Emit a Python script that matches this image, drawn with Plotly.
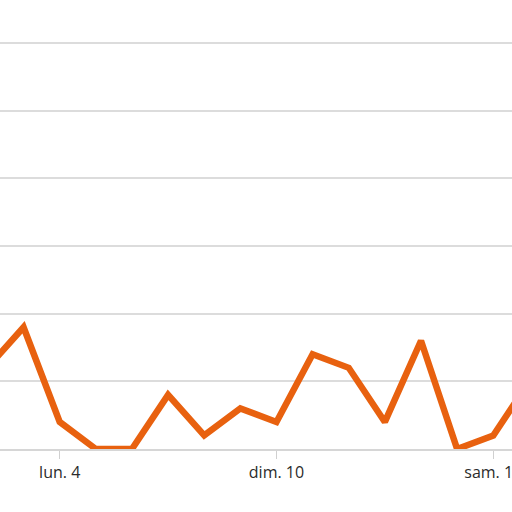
import plotly.graph_objects as go
import pandas as pd

dates = ["2024-03-01", "2024-03-02", "2024-03-03", "2024-03-04", "2024-03-05", "2024-03-06",
         "2024-03-07", "2024-03-08", "2024-03-09", "2024-03-10", "2024-03-11", "2024-03-12",
         "2024-03-13", "2024-03-14", "2024-03-15", "2024-03-16", "2024-03-17", "2024-03-18"]
values = [5, 6, 9, 2, 0, 0, 4, 1, 3, 2, 7, 6, 2, 8, 0, 1, 5, 6]
tick_dates = ["2024-03-04", "2024-03-10", "2024-03-16"]
tick_labels = ["lun. 4", "dim. 10", "sam. 16"]

fig = go.Figure(go.Scatter(
    x=pd.to_datetime(dates), y=values, mode="lines",
    line=dict(color="#E8610F", width=6.5),
    hoverinfo="skip",
))

fig.update_layout(
    width=512, height=512,
    margin=dict(l=0, r=0, t=39, b=63, autoexpand=False),
    paper_bgcolor="white", plot_bgcolor="white",
    showlegend=False,
    font=dict(family="Open Sans, sans-serif", size=16, color="#2b2b2b"),
)
fig.update_xaxes(
    range=["2024-03-02 08:21", "2024-03-16 12:27"],
    tickvals=pd.to_datetime(tick_dates), ticktext=tick_labels,
    showgrid=False, showline=True, linecolor="#d6d6d6", linewidth=2,
    ticks="outside", ticklen=8, tickcolor="#d0d0d0", tickwidth=1,
    ticklabeloverflow="allow",
    tickfont=dict(family="Open Sans, sans-serif", size=16, color="#2b2b2b"),
)
fig.update_yaxes(
    range=[0, 30.3], tickvals=[5, 10, 15, 20, 25, 30], showticklabels=False,
    showgrid=True, gridcolor="#dcdcdc", gridwidth=2,
    zeroline=False,
)
fig.write_html("out.html", config={"displayModeBar": False},
               post_script="document.body.style.margin='0';")
